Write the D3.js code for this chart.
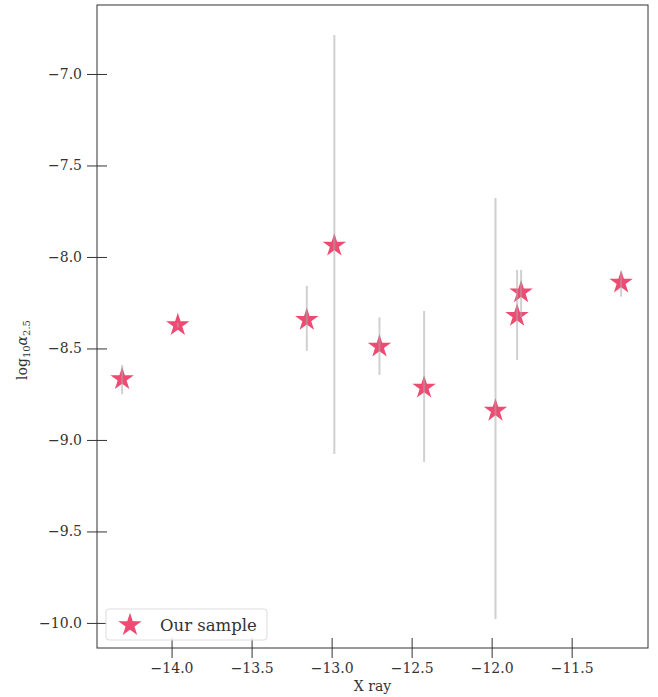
<!DOCTYPE html>
<html lang="en">
<head>
<meta charset="UTF-8">
<title>X ray vs log alpha</title>
<script src="https://cdn.jsdelivr.net/npm/d3@7"></script>
<style>
  body { margin: 0; background: #fff; }
  text { font-family: "DejaVu Serif", serif; fill: #333; }
</style>
</head>
<body>
<svg id="chart" width="658" height="697"></svg>
<script>
// values
var xray   = [-14.309, -13.961, -13.155, -12.983, -12.701, -12.422, -11.976, -11.841, -11.816, -11.191];
var logA   = [-8.667, -8.372, -8.344, -7.938, -8.490, -8.714, -8.840, -8.322, -8.193, -8.140];
var errLo  = [-8.750, -8.385, -8.513, -9.077, -8.645, -9.120, -9.978, -8.563, -8.330, -8.217];
var errHi  = [-8.590, -8.360, -8.158, -6.787, -8.330, -8.295, -7.678, -8.071, -8.071, -8.080];
var xTicks = [-14.0, -13.5, -13.0, -12.5, -12.0, -11.5];
var yTicks = [-7.0, -7.5, -8.0, -8.5, -9.0, -9.5, -10.0];

var pLeft = 97, pRight = 648, pTop = 5, pBottom = 648;
var svg = d3.select("#chart");

var x = d3.scaleLinear().domain([-14.466, -11.023]).range([pLeft, pRight]);
var y = d3.scaleLinear().domain([-10.137, -6.623]).range([pBottom, pTop]);

var fmt = function (d) { return d3.format(".1f")(d).replace("-", "\u2212"); };

var pts = xray.map(function (v, i) { return {x: v, y: logA[i], lo: errLo[i], hi: errHi[i]}; });

// stars
var star = d3.symbol().type(d3.symbolStar).size(170);
svg.append("g").selectAll("path")
  .data(pts).enter().append("path")
  .attr("d", star)
  .attr("transform", function (d) { return "translate(" + x(d.x) + "," + y(d.y) + ")"; })
  .attr("fill", "#ee4a72");

// error bars (drawn over, semi transparent)
svg.append("g").selectAll("line")
  .data(pts).enter().append("line")
  .attr("x1", function (d) { return x(d.x); })
  .attr("x2", function (d) { return x(d.x); })
  .attr("y1", function (d) { return y(d.lo); })
  .attr("y2", function (d) { return y(d.hi); })
  .attr("stroke", "#aaa")
  .attr("stroke-opacity", 0.55)
  .attr("stroke-width", 2);

// axes
var xAxis = d3.axisBottom(x).tickValues(xTicks).tickFormat(fmt).tickSizeInner(10).tickSizeOuter(0).tickPadding(5);
var yAxis = d3.axisLeft(y).tickValues(yTicks).tickFormat(fmt).tickSizeInner(10).tickSizeOuter(0).tickPadding(5);

var gx = svg.append("g").attr("transform", "translate(0," + pBottom + ")").call(xAxis);
var gy = svg.append("g").attr("transform", "translate(" + pLeft + ",0)").call(yAxis);
[gx, gy].forEach(function (g) {
  g.select(".domain").remove();
  g.selectAll("line").attr("stroke", "#333");
  g.selectAll("text").attr("font-family", "DejaVu Serif").attr("font-size", 14).attr("fill", "#333");
});
// ticks go both ways
gx.selectAll(".tick line").attr("y1", -10).attr("y2", 10);
gy.selectAll(".tick line").attr("x1", -10).attr("x2", 10);

// frame
svg.append("rect")
  .attr("x", pLeft).attr("y", pTop)
  .attr("width", pRight - pLeft).attr("height", pBottom - pTop)
  .attr("fill", "none").attr("stroke", "#333").attr("stroke-width", 1);

// labels
svg.append("text")
  .attr("x", (pLeft + pRight) / 2).attr("y", 691)
  .attr("text-anchor", "middle").attr("font-size", 14)
  .text("X ray");

var yl = svg.append("text")
  .attr("transform", "translate(27,350) rotate(-90)")
  .attr("text-anchor", "middle").attr("font-size", 14);
yl.append("tspan").text("log");
yl.append("tspan").attr("font-size", 10).attr("dy", 3).text("10");
yl.append("tspan").attr("dy", -3).attr("font-style", "italic").text("\u03b1");
yl.append("tspan").attr("font-size", 10).attr("dy", 3).text("2.5");

// legend
var lg = svg.append("g");
lg.append("rect")
  .attr("x", 106).attr("y", 609).attr("width", 161).attr("height", 31)
  .attr("rx", 3).attr("fill", "#fff").attr("fill-opacity", 0.8)
  .attr("stroke", "#ddd");
lg.append("path")
  .attr("d", star)
  .attr("transform", "translate(130,625)")
  .attr("fill", "#ee4a72");
lg.append("text")
  .attr("x", 160).attr("y", 631)
  .attr("font-size", 16.5)
  .text("Our sample");
</script>
</body>
</html>
